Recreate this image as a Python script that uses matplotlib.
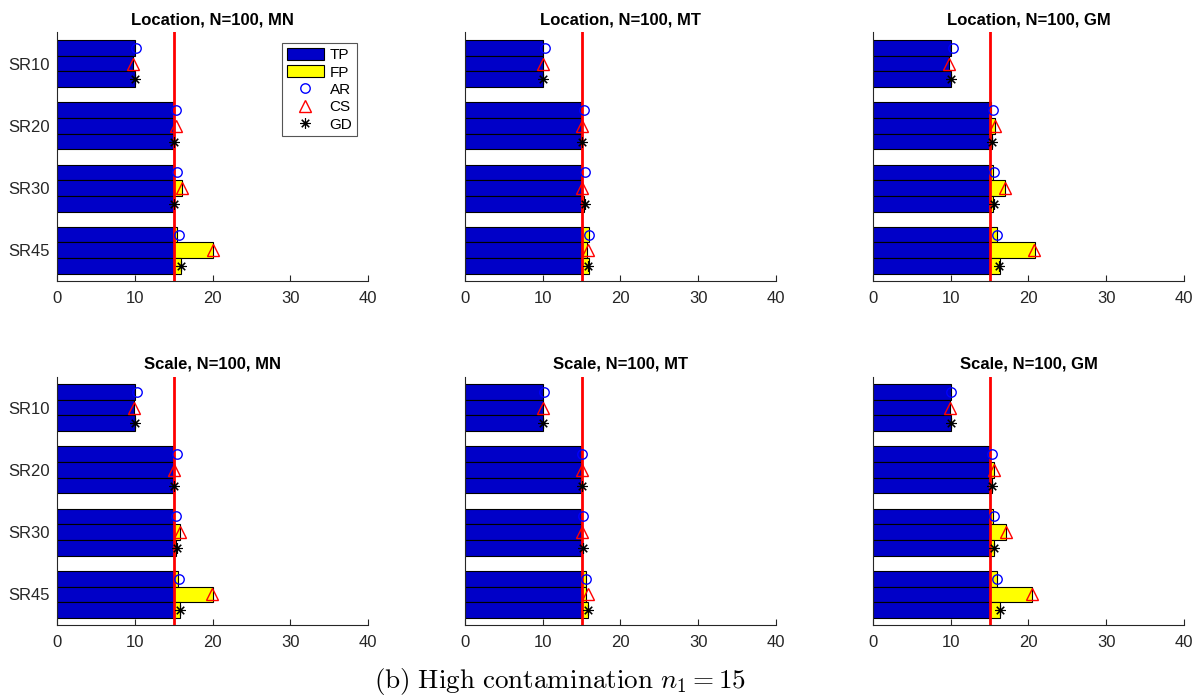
import matplotlib
matplotlib.use("Agg")
import matplotlib.pyplot as plt
from matplotlib.lines import Line2D
from matplotlib.patches import Patch
import numpy as np

# Mean number of flagged points per method (AR, CS, GD) for each setting,
# rows are SR10, SR20, SR30, SR45.  Markers show the per-method estimate.
settings = ["SR10", "SR20", "SR30", "SR45"]
methods = ["AR", "CS", "GD"]
n1 = 15

loc_mn_bars = [[10.0, 9.8, 10.0], [15.0, 15.0, 15.0], [15.1, 16.1, 15.1], [15.4, 20.0, 15.9]]
loc_mn_marks = [[10.2, 9.8, 10.0], [15.3, 15.25, 15.1], [15.4, 16.1, 15.1], [15.7, 20.0, 15.9]]

loc_mt_bars = [[10.0, 10.0, 10.0], [14.9, 14.9, 14.9], [15.0, 15.0, 15.25], [15.9, 15.7, 15.9]]
loc_mt_marks = [[10.3, 10.0, 10.0], [15.25, 15.1, 15.05], [15.4, 15.1, 15.4], [15.9, 15.8, 15.8]]

loc_gm_bars = [[10.1, 9.8, 10.1], [15.2, 15.7, 15.3], [15.4, 17.0, 15.5], [16.0, 20.8, 16.3]]
loc_gm_marks = [[10.3, 9.8, 10.05], [15.4, 15.75, 15.25], [15.55, 17.0, 15.55], [15.95, 20.7, 16.2]]

sc_mn_bars = [[10.0, 9.9, 10.0], [15.0, 15.0, 15.1], [15.0, 15.85, 15.35], [15.6, 20.0, 15.85]]
sc_mn_marks = [[10.3, 9.9, 10.0], [15.4, 15.1, 15.1], [15.35, 15.85, 15.4], [15.7, 19.9, 15.85]]

sc_mt_bars = [[10.0, 10.0, 10.0], [14.9, 14.9, 14.9], [14.9, 14.9, 15.0], [15.5, 15.6, 15.8]]
sc_mt_marks = [[10.2, 10.0, 10.0], [15.1, 15.0, 15.0], [15.2, 15.0, 15.2], [15.5, 15.8, 15.8]]

sc_gm_bars = [[10.1, 9.85, 10.1], [15.1, 15.55, 15.3], [15.4, 17.1, 15.6], [16.0, 20.5, 16.4]]
sc_gm_marks = [[10.1, 9.9, 10.0], [15.35, 15.6, 15.3], [15.55, 17.05, 15.6], [16.0, 20.5, 16.3]]

panels = [
    ("Location, N=100, MN", loc_mn_bars, loc_mn_marks),
    ("Location, N=100, MT", loc_mt_bars, loc_mt_marks),
    ("Location, N=100, GM", loc_gm_bars, loc_gm_marks),
    ("Scale, N=100, MN", sc_mn_bars, sc_mn_marks),
    ("Scale, N=100, MT", sc_mt_bars, sc_mt_marks),
    ("Scale, N=100, GM", sc_gm_bars, sc_gm_marks),
]

plt.rcParams.update({
    "font.family": ["Liberation Sans", "DejaVu Sans"],
    "font.size": 12,
    "mathtext.fontset": "cm",
    "axes.edgecolor": "#262626",
    "xtick.color": "#262626",
    "ytick.color": "#262626",
})

TP_COLOR = "#0000C8"
FP_COLOR = "#FFFF00"
marker_style = {
    "AR": dict(marker="o", color="#0000FF", ms=6.8, mew=1.0),
    "CS": dict(marker="^", color="#FF0000", ms=8.5, mew=1.0),
    "GD": dict(marker=(8, 2, 0), color="#000000", ms=7.5, mew=0.8),
}

fig = plt.figure(figsize=(11.96, 6.98), dpi=100)
lefts = [0.0477, 0.3888, 0.7299]
bottoms = [0.5968, 0.1039]
w, h_ax = 0.260, 0.3567

bar_h = 0.252
offsets = np.array([-1, 0, 1]) * bar_h
ypos = np.arange(1, len(settings) + 1)

for k, (title, bars, marks) in enumerate(panels):
    r, c = divmod(k, 3)
    ax = fig.add_axes([lefts[c], bottoms[r], w, h_ax])
    bars = np.array(bars)
    marks = np.array(marks)
    for j, m in enumerate(methods):
        total = bars[:, j]
        tp = np.minimum(total, n1)
        fp = total - tp
        y = ypos + offsets[j]
        ax.barh(y, tp, height=bar_h, color=TP_COLOR, edgecolor="black",
                linewidth=0.8, zorder=2)
        ax.barh(y[fp > 0], fp[fp > 0], left=tp[fp > 0], height=bar_h,
                color=FP_COLOR, edgecolor="black", linewidth=0.8, zorder=2)
        st = marker_style[m]
        ax.plot(marks[:, j], y, linestyle="none", marker=st["marker"],
                markersize=st["ms"], markerfacecolor="none",
                markeredgecolor=st["color"], markeredgewidth=st["mew"], zorder=4)
    ax.axvline(n1, color="#FF0000", linewidth=2.0, zorder=3)

    ax.set_xlim(0, 40)
    ax.set_ylim(4.5, 0.5)
    ax.set_xticks([0, 10, 20, 30, 40])
    ax.set_yticks(ypos)
    if c == 0:
        ax.set_yticklabels(settings)
    else:
        ax.set_yticklabels([])
    ax.tick_params(axis="x", direction="in", length=4, width=0.8, pad=7)
    ax.tick_params(axis="y", direction="in", length=3, width=0.8, pad=5)
    ax.spines["top"].set_visible(False)
    ax.spines["right"].set_visible(False)
    ax.spines["left"].set_linewidth(0.8)
    ax.spines["bottom"].set_linewidth(0.8)
    ax.set_title(title, fontsize=12, fontweight="bold", pad=6)

    if k == 0:
        handles = [
            Patch(facecolor=TP_COLOR, edgecolor="black", linewidth=0.8, label="TP"),
            Patch(facecolor=FP_COLOR, edgecolor="black", linewidth=0.8, label="FP"),
        ]
        for m in methods:
            st = marker_style[m]
            handles.append(Line2D([0], [0], linestyle="none", marker=st["marker"],
                                  markersize=st["ms"], markerfacecolor="none",
                                  markeredgecolor=st["color"],
                                  markeredgewidth=st["mew"], label=m))
        leg = ax.legend(handles=handles, loc="upper right",
                        bbox_to_anchor=(0.9646, 0.957), borderaxespad=0,
                        fontsize=11, fancybox=False, framealpha=1,
                        edgecolor="#555555", handlelength=2.4, handleheight=0.85,
                        handletextpad=0.4, labelspacing=0.2, borderpad=0.3)
        leg.get_frame().set_linewidth(0.8)

fig.text(0.468, 0.023, r"$\mathrm{(b)\ High\ contamination}\ n_1 = 15$",
         ha="center", va="center", fontsize=19.5)

fig.savefig("out.png", dpi=100)
